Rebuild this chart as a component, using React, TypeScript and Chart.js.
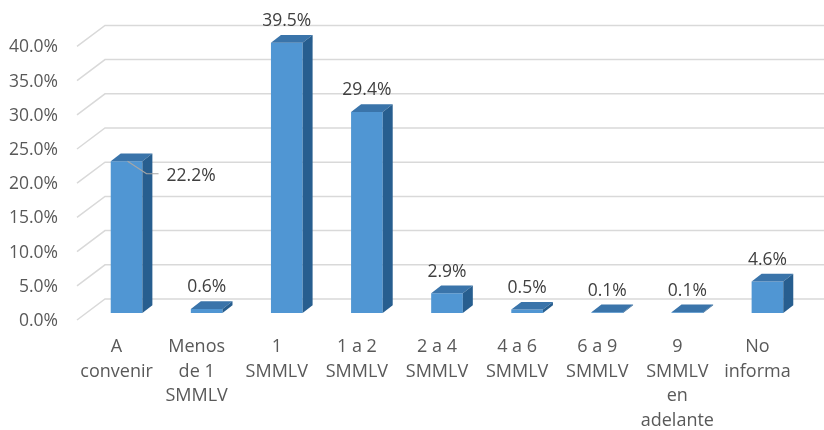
import React, { useEffect, useRef } from "react";
import { Chart, registerables } from "chart.js";

Chart.register(...registerables);

const categories: string[][] = [
  ["A", "convenir"],
  ["Menos", "de 1", "SMMLV"],
  ["1", "SMMLV"],
  ["1 a 2", "SMMLV"],
  ["2 a 4", "SMMLV"],
  ["4 a 6", "SMMLV"],
  ["6 a 9", "SMMLV"],
  ["9", "SMMLV", "en", "adelante"],
  ["No", "informa"],
];
const values: number[] = [22.2, 0.6, 39.5, 29.4, 2.9, 0.5, 0.1, 0.1, 4.6];
const yMin = 0;
const yMax = 40;
const yStep = 5;

const FONT = "'Open Sans', 'Noto Sans', sans-serif";
const FRONT = "#5096D3";
const TOP = "#3A74AA";
const SIDE = "#275E8F";
const GRID = "#D9D9D9";

const depthPlugin = {
  id: "depth3d",
  beforeDatasetsDraw(chart: any) {
    const { ctx, chartArea, scales } = chart;
    const ys = scales.y;
    ctx.save();
    ctx.strokeStyle = GRID;
    ctx.lineWidth = 1.5;
    const fx = chartArea.left - 9.5;
    const bx = chartArea.left + 18.5;
    ys.ticks.forEach((t: any) => {
      const y = ys.getPixelForValue(t.value);
      ctx.beginPath();
      ctx.moveTo(fx, y + 7);
      ctx.lineTo(bx, y - 14);
      ctx.lineTo(chart.width, y - 14);
      ctx.stroke();
    });
    ctx.restore();
  },
  afterDatasetsDraw(chart: any) {
    const { ctx } = chart;
    const meta = chart.getDatasetMeta(0);
    const dx = 10;
    const dy = -7.7;
    ctx.save();
    meta.data.forEach((bar: any, i: number) => {
      const { x, y, base, width } = bar.getProps(["x", "y", "base", "width"], true);
      const l = x - width / 2;
      const r = x + width / 2;
      // top face
      ctx.fillStyle = TOP;
      ctx.beginPath();
      ctx.moveTo(l, y);
      ctx.lineTo(l + dx, y + dy);
      ctx.lineTo(r + dx, y + dy);
      ctx.lineTo(r, y);
      ctx.closePath();
      ctx.fill();
      // side face
      ctx.fillStyle = SIDE;
      ctx.beginPath();
      ctx.moveTo(r, y);
      ctx.lineTo(r + dx, y + dy);
      ctx.lineTo(r + dx, base + dy);
      ctx.lineTo(r, base);
      ctx.closePath();
      ctx.fill();

      // data labels
      const txt = values[i].toFixed(1) + "%";
      ctx.font = `17.5px ${FONT}`;
      ctx.fillStyle = "#404040";
      ctx.textBaseline = "middle";
      if (i === 0) {
        ctx.strokeStyle = "#A6A6A6";
        ctx.lineWidth = 1.2;
        ctx.beginPath();
        ctx.moveTo(x + 1, y);
        ctx.lineTo(x + 20, y + 12.6);
        ctx.lineTo(x + 32, y + 12.6);
        ctx.stroke();
        ctx.textAlign = "left";
        ctx.fillText(txt, x + 40, y + 15);
      } else {
        ctx.textAlign = "center";
        ctx.fillText(txt, x, y - 21.5);
      }
    });
    ctx.restore();
  },
};

export default function App() {
  const ref = useRef<HTMLCanvasElement | null>(null);
  useEffect(() => {
    document.body.style.margin = "0";
    const canvas = ref.current;
    if (!canvas) return;
    const chart = new Chart(canvas, {
      type: "bar",
      data: {
        labels: categories,
        datasets: [
          {
            data: values,
            backgroundColor: FRONT,
            borderWidth: 0,
            categoryPercentage: 1,
            barPercentage: 0.395,
          },
        ],
      },
      options: {
        animation: false,
        responsive: false,
        layout: { padding: { left: 0, right: 16.5, top: 39.4, bottom: 0 } },
        plugins: { legend: { display: false }, tooltip: { enabled: false } },
        scales: {
          x: {
            offset: true,
            grid: { display: false, drawTicks: false, tickLength: 0 },
            border: { display: false },
            ticks: {
              autoSkip: false,
              maxRotation: 0,
              minRotation: 0,
              padding: 22,
              labelOffset: -10,
              color: "#595959",
              font: { family: FONT, size: 18, lineHeight: 1.36 },
            },
            afterFit: (s: any) => {
              s.height = 117;
            },
          },
          y: {
            min: yMin,
            max: yMax,
            grid: { display: false, drawTicks: false, tickLength: 0 },
            border: { display: false },
            ticks: {
              stepSize: yStep,
              padding: 28.5,
              labelOffset: 8,
              color: "#595959",
              font: { family: FONT, size: 17.5 },
              callback: (v: any) => Number(v).toFixed(1) + "%",
            },
            afterFit: (s: any) => {
              s.width = 86.5;
            },
          },
        },
      },
      plugins: [depthPlugin],
    });
    return () => chart.destroy();
  }, []);
  return (
    <div style={{ position: "absolute", left: 0, top: 0, width: 824, height: 430, background: "#fff" }}>
      <canvas ref={ref} width={824} height={430} style={{ width: 824, height: 430, display: "block" }} />
    </div>
  );
}
